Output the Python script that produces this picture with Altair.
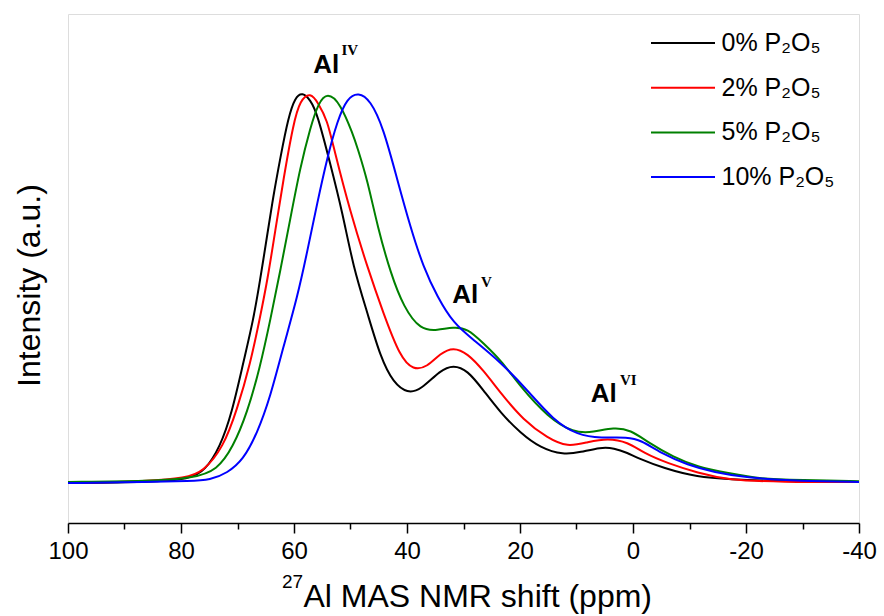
import altair as alt
import pandas as pd

# ---------------- data ----------------
series_names = ["0% P₂O₅", "2% P₂O₅", "5% P₂O₅", "10% P₂O₅"]
series_colors = ["#000000", "#ff0000", "#008000", "#0000ff"]

black_ppm = [100, 85.5, 78.4, 75.7, 73.1, 71.0, 69.0, 67.2, 66.0, 64.8, 63.7, 62.4, 61.0, 59.8, 58.5,
             57.1, 55.9, 53.6, 51.4, 49.5, 47.0, 44.7, 42.4, 39.9, 37.6, 34.1, 31.8, 29.3, 26.5, 23.4,
             19.9, 16.4, 12.3, 9.3, 5.7, 3.4, 0.9, -0.8, -5.4, -11.5, -16.8, -26.2, -40]
black_int = [0.0, 0.003, 0.010, 0.033, 0.092, 0.179, 0.307, 0.417, 0.519, 0.629, 0.731, 0.834, 0.936, 0.987, 1.0,
             0.980, 0.946, 0.818, 0.691, 0.552, 0.435, 0.322, 0.256, 0.230, 0.238, 0.289, 0.302, 0.289, 0.238, 0.179,
             0.128, 0.090, 0.072, 0.079, 0.092, 0.090, 0.077, 0.064, 0.038, 0.015, 0.010, 0.005, 0.003]

red_ppm = [100, 85.5, 79.3, 76.1, 72.5, 70.1, 67.7, 66.0, 64.7, 63.3, 61.9, 60.1, 58.9, 57.1, 55.7,
           54.1, 53.0, 50.0, 47.0, 44.2, 41.2, 38.9, 36.4, 34.1, 31.8, 29.3, 26.5, 23.4, 19.4, 15.1,
           11.6, 8.0, 4.5, 0.9, -1.9, -6.1, -11.5, -16.8, -26.2, -40]
red_int = [0.0, 0.005, 0.013, 0.028, 0.092, 0.187, 0.307, 0.425, 0.519, 0.647, 0.775, 0.921, 0.980, 1.0, 0.972,
           0.928, 0.859, 0.691, 0.552, 0.435, 0.322, 0.289, 0.297, 0.332, 0.348, 0.332, 0.289, 0.230, 0.161, 0.115,
           0.092, 0.105, 0.115, 0.105, 0.077, 0.051, 0.026, 0.008, 0.003, 0.003]

green_ppm = [100, 85.5, 77.8, 73.6, 70.8, 68.3, 66.0, 64.2, 62.4, 60.7, 58.9, 57.1, 55.7, 54.1, 51.8,
             49.5, 48.8, 47.0, 45.2, 42.9, 40.6, 37.6, 34.6, 31.8, 29.3, 26.5, 23.4, 19.9, 15.1, 10.5,
             7.0, 3.4, 0.4, -2.6, -7.2, -11.5, -16.8, -22.6, -29.7, -40]
green_int = [0.003, 0.005, 0.013, 0.033, 0.092, 0.179, 0.297, 0.417, 0.545, 0.673, 0.808, 0.910, 0.972, 1.0, 0.972,
             0.890, 0.859, 0.775, 0.655, 0.537, 0.450, 0.391, 0.391, 0.399, 0.396, 0.358, 0.315, 0.246, 0.169, 0.128,
             0.130, 0.143, 0.136, 0.105, 0.066, 0.041, 0.026, 0.010, 0.008, 0.005]

blue_ppm = [100, 85.5, 78.4, 74.8, 71.8, 69.0, 66.5, 64.2, 61.9, 59.4, 57.6, 55.9, 54.1, 52.3, 50.6,
            48.6, 46.5, 44.2, 41.7, 39.4, 37.1, 34.6, 31.8, 28.2, 23.4, 18.7, 14.1, 9.8, 5.7, 0.9,
            -1.4, -4.9, -9.7, -14.3, -20.3, -29.7, -40]
blue_int = [0.0, 0.003, 0.005, 0.008, 0.026, 0.059, 0.128, 0.220, 0.348, 0.476, 0.596, 0.716, 0.834, 0.928, 0.985,
            1.0, 0.980, 0.910, 0.775, 0.655, 0.552, 0.476, 0.409, 0.366, 0.309, 0.238, 0.161, 0.123, 0.115, 0.118,
            0.110, 0.077, 0.046, 0.028, 0.013, 0.005, 0.003]

# peak annotations (main text and superscript)
al_text = ["Al", "Al", "Al"]
al_ppm = [56.6, 32.0, 7.5]
al_int = [1.049, 0.460, 0.207]
sup_text = ["IV", "V", "VI"]
sup_ppm = [51.6, 26.9, 2.3]
sup_int = [1.095, 0.501, 0.251]

tick_values = list(range(100, -41, -10))

# ---------------- build tables ----------------
rows = []
for name, xs, ys in zip(series_names,
                        [black_ppm, red_ppm, green_ppm, blue_ppm],
                        [black_int, red_int, green_int, blue_int]):
    for xv, yv in zip(xs, ys):
        rows.append({"series": name, "ppm": xv, "intensity": yv})
df = pd.DataFrame(rows)
al_df = pd.DataFrame({"t": al_text, "ppm": al_ppm, "intensity": al_int})
sup_df = pd.DataFrame({"t": sup_text, "ppm": sup_ppm, "intensity": sup_int})

FONT = "Liberation Sans"

x_scale = alt.Scale(domain=[-40, 100], reverse=True, nice=False, zero=False)
y_scale = alt.Scale(domain=[-0.102, 1.2], nice=False, zero=False)

x_axis = alt.Axis(
    values=tick_values,
    labelExpr="datum.value % 20 === 0 ? toString(datum.value) : ''",
    tickSize={"condition": {"test": "datum.value % 20 === 0", "value": 10}, "value": 6},
    tickColor="black", tickWidth=1.5,
    domainColor="black", domainWidth=1.5,
    labelFont=FONT, labelFontSize=24, labelColor="black", labelPadding=6,
    labelFlush=False, labelOverlap=False,
    grid=False,
    title="Al MAS NMR shift (ppm)",
    titleFont=FONT, titleFontSize=32, titleFontWeight="normal", titleColor="black",
    titleAlign="left", titleX=235, titleY=83, titleBaseline="alphabetic",
)
y_axis = alt.Axis(
    labels=False, ticks=False, domain=False, grid=False,
    title="Intensity (a.u.)",
    titleFont=FONT, titleFontSize=32, titleFontWeight="normal", titleColor="black",
    titleAngle=270, titleX=-29, titleY=271, titleAlign="center", titleBaseline="alphabetic",
)

x_enc = alt.X("ppm:Q", scale=x_scale, axis=x_axis)
y_enc = alt.Y("intensity:Q", scale=y_scale, axis=y_axis)

lines = alt.Chart(df).mark_line(strokeWidth=2, interpolate="basis").encode(
    x=x_enc,
    y=y_enc,
    color=alt.Color(
        "series:N",
        scale=alt.Scale(domain=series_names, range=series_colors),
        sort=series_names,
        legend=alt.Legend(
            orient="none", legendX=583, legendY=16.5, title=None,
            symbolType="M-4,0H4", symbolSize=256, symbolStrokeWidth=2,
            symbolOffset=19.5, labelOffset=26,
            labelFont=FONT, labelFontSize=25, labelColor="black", labelLimit=400,
            rowPadding=18.7, padding=0,
        ),
    ),
)

al_marks = alt.Chart(al_df).mark_text(
    align="left", baseline="alphabetic", font=FONT, fontSize=26, fontWeight="bold", color="black"
).encode(x=x_enc, y=y_enc, text="t:N")

sup_marks = alt.Chart(sup_df).mark_text(
    align="left", baseline="alphabetic", font="Liberation Serif", fontSize=15, fontWeight="bold", color="black"
).encode(x=x_enc, y=y_enc, text="t:N")

iso = alt.Chart(pd.DataFrame({"t": ["27"]})).mark_text(
    align="left", baseline="alphabetic", font=FONT, fontSize=19, color="black"
).encode(x=alt.value(214), y=alt.value(574), text="t:N")

chart = alt.layer(lines, al_marks, sup_marks, iso).properties(
    width=791, height=509,
    autosize=alt.AutoSizeParams(type="none"),
    padding={"left": 68, "top": 14, "right": 25, "bottom": 93},
).configure_view(
    stroke="black", strokeWidth=1.5
).configure(background="white")

chart.save("out.html", embed_options={"renderer": "svg", "actions": False})
